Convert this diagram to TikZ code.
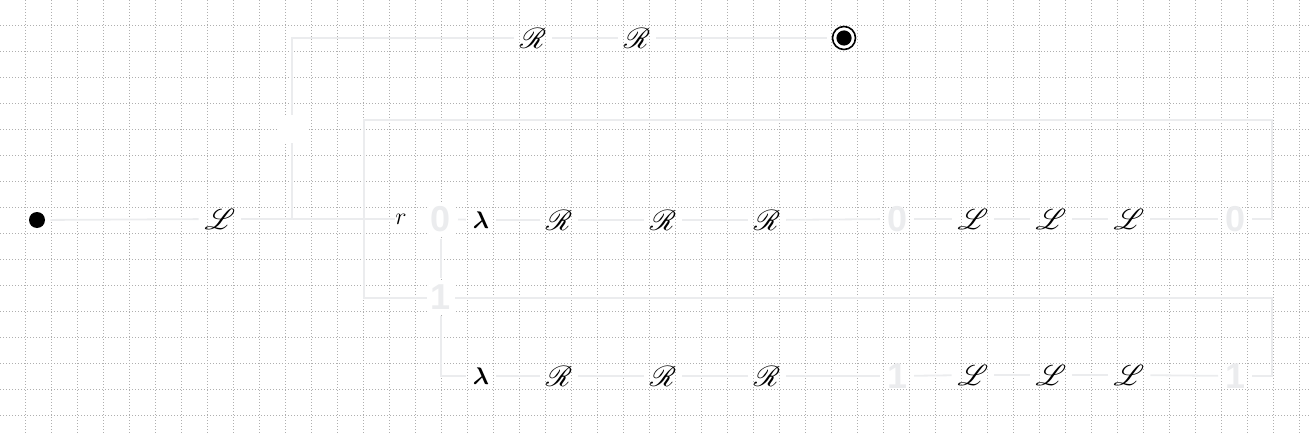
\documentclass[tikz,border=0pt]{standalone}
\usepackage{fontspec}
\usepackage{amsmath}
\usepackage{bm}
\usepackage{mathrsfs}
\newfontfamily\labfont{Liberation Sans}
\pgfdeclarelayer{gridlayer}
\pgfdeclarelayer{wirelayer}
\pgfsetlayers{gridlayer,wirelayer,main}
\definecolor{ghost}{RGB}{235,236,238}
\definecolor{gridc}{RGB}{175,175,175}
\tikzset{
  wire/.style={draw=ghost,line width=0.9pt},
  gridline/.style={draw=gridc,line width=0.5pt,dash pattern=on 0.5pt off 1pt},
  sym/.style={inner sep=1.5pt,outer sep=1.5pt,font=\fontsize{14}{16}\selectfont},
  lam/.style={inner sep=1.5pt,outer sep=2pt,font=\fontsize{13}{15}\selectfont},
  ghostlab/.style={text=ghost,font=\labfont\bfseries\fontsize{18}{20}\selectfont,inner sep=2pt,outer sep=1.5pt},
  ghostbox/.style={ghostlab,fill=white},
  startdot/.style={circle,fill=black,minimum size=8pt,inner sep=0pt,outer sep=2.7pt},
  acceptst/.style={circle,draw=black,line width=0.8pt,minimum size=11.5pt,inner sep=0pt,outer sep=3pt,
    path picture={\fill[black] (path picture bounding box.center) circle (3.8pt);}},
  blankbox/.style={fill=white,minimum width=15pt,minimum height=13.5pt,inner sep=0pt,outer sep=0pt}
}
\begin{document}
\begin{tikzpicture}[x=0.5pt,y=-0.5pt]
\useasboundingbox (0,0) rectangle (1311,433);
% grid
\begin{pgfonlayer}{gridlayer}
\foreach \k in {0,...,49} {\draw[gridline] ({25.5+26*\k},0) -- ({25.5+26*\k},433);}
\foreach \k in {0,...,15} {\draw[gridline] (0,{25.5+26*\k}) -- (1311,{25.5+26*\k});}
\end{pgfonlayer}
% nodes
\node[startdot] (start) at (37,220) {};
\node[sym] (L0) at (220,219) {$\mathscr{L}$};
\coordinate (j1) at (292,220);
\node[blankbox] (blank) at (292,129) {};
\node[sym] (Rt1) at (533,38) {$\mathscr{R}$};
\node[sym] (Rt2) at (637,38) {$\mathscr{R}$};
\node[acceptst] (acc) at (844,38) {};
\node[inner sep=0pt,outer sep=0pt,font=\fontsize{13}{15}\selectfont] (r) at (401,219) {$r$};
\node[ghostbox] (lab0) at (441,219) {0};
\node[ghostbox] (lab1) at (441,297) {1};
% row 1
\node[lam] (a1) at (481,220) {$\bm{\lambda}$};
\node[sym] (a2) at (559,220) {$\mathscr{R}$};
\node[sym] (a3) at (663,220) {$\mathscr{R}$};
\node[sym] (a4) at (767,220) {$\mathscr{R}$};
\node[ghostlab] (a5) at (897,219) {0};
\node[sym] (a6) at (973,219) {$\mathscr{L}$};
\node[sym] (a7) at (1051,219) {$\mathscr{L}$};
\node[sym] (a8) at (1129,219) {$\mathscr{L}$};
\node[ghostlab] (a9) at (1235,219) {0};
% row 2
\node[lam] (b1) at (481,376) {$\bm{\lambda}$};
\node[sym] (b2) at (559,376) {$\mathscr{R}$};
\node[sym] (b3) at (663,376) {$\mathscr{R}$};
\node[sym] (b4) at (767,376) {$\mathscr{R}$};
\node[ghostlab] (b5) at (897,376) {1};
\node[sym] (b6) at (973,375) {$\mathscr{L}$};
\node[sym] (b7) at (1051,375) {$\mathscr{L}$};
\node[sym] (b8) at (1129,375) {$\mathscr{L}$};
\node[ghostlab] (b9) at (1235,376) {1};
% loop corners
\coordinate (ne) at (1272,120);
\coordinate (nw) at (364,120);
\coordinate (se) at (1272,298);
\coordinate (sw) at (364,298);
\coordinate (jr) at (364,220);
% wires
\begin{pgfonlayer}{wirelayer}
\draw[wire] (start) -- (L0);
\draw[wire] (L0) -- (r);
\draw[wire] (j1) -- (blank);
\draw[wire] (blank) |- (Rt1);
\draw[wire] (Rt1) -- (Rt2);
\draw[wire] (Rt2) -- (acc);
\draw[wire] (lab0) -- (a1);
\draw[wire] (lab0) -- (lab1);
\draw[wire] (lab1) |- (b1);
\draw[wire] (a1) -- (a2);
\draw[wire] (a2) -- (a3);
\draw[wire] (a3) -- (a4);
\draw[wire] (a4) -- (a5);
\draw[wire] (a5) -- (a6);
\draw[wire] (a6) -- (a7);
\draw[wire] (a7) -- (a8);
\draw[wire] (a8) -- (a9);
\draw[wire] (b1) -- (b2);
\draw[wire] (b2) -- (b3);
\draw[wire] (b3) -- (b4);
\draw[wire] (b4) -- (b5);
\draw[wire] (b5) -- (b6);
\draw[wire] (b6) -- (b7);
\draw[wire] (b7) -- (b8);
\draw[wire] (b8) -- (b9);
\draw[wire] (a9) -| (ne) -- (nw) -- (jr);
\draw[wire] (b9) -| (se) -- (sw) -- (jr);
\end{pgfonlayer}
\end{tikzpicture}
\end{document}
